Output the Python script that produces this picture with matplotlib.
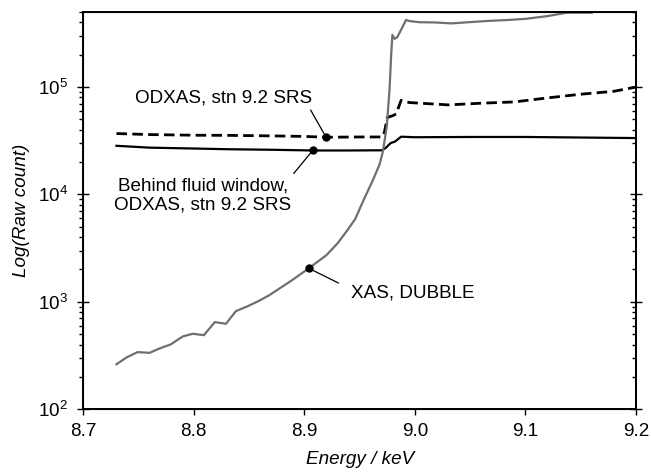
#Imports
import numpy as np
import matplotlib
matplotlib.use("Agg")
import matplotlib.pyplot as plt

#Fonts
plt.rcParams["font.family"] = ["Liberation Sans", "DejaVu Sans"]
plt.rcParams["font.size"] = 13.6

#XAS transmission scan, DUBBLE (energy in keV, raw counts)
xas_e = [8.730, 8.739, 8.749, 8.760, 8.769, 8.779, 8.790, 8.799, 8.809, 8.819,
         8.829, 8.838, 8.849, 8.859, 8.868, 8.879, 8.889, 8.904, 8.920, 8.930,
         8.939, 8.946, 8.953, 8.962, 8.968, 8.971, 8.9745, 8.977, 8.9785, 8.9796,
         8.9815, 8.984, 8.992, 8.995, 9.004, 9.018, 9.033, 9.064, 9.085, 9.100,
         9.120, 9.137, 9.150, 9.160]
xas_counts = [262, 303, 340, 335, 368, 401, 476, 504, 489, 647,
              624, 818, 912, 1022, 1147, 1362, 1592, 2049, 2723, 3500,
              4655, 5900, 8600, 13600, 19000, 25000, 42800, 93500, 200000, 305000,
              280000, 290000, 420000, 410000, 400000, 398000, 390000, 410000, 420000, 430000,
              456000, 490000, 490000, 490000]

#ODXAS, stn 9.2 SRS
odxas_e = [8.730, 8.760, 8.800, 8.830, 8.870, 8.900, 8.920, 8.950, 8.9705, 8.9724,
           8.975, 8.980, 8.983, 8.9875, 8.995, 9.010, 9.030, 9.060, 9.090, 9.120,
           9.150, 9.180, 9.200]
odxas_counts = [36800, 36000, 35500, 35400, 35000, 34600, 34000, 34200, 34200, 38000,
                52000, 54000, 56000, 75000, 71500, 70000, 68000, 70500, 72500, 79000,
                85500, 91000, 99700]

#Behind fluid window, ODXAS, stn 9.2 SRS
fluid_e = [8.730, 8.760, 8.800, 8.830, 8.870, 8.9075, 8.940, 8.970, 8.9735, 8.978,
           8.982, 8.9875, 9.000, 9.050, 9.100, 9.150, 9.200]
fluid_counts = [28300, 27200, 26700, 26300, 26000, 25600, 25600, 25700, 27000, 30000,
                31000, 34400, 34000, 34200, 34200, 33800, 33400]

#Where each label points on its curve (keV)
xas_pick, odxas_pick, fluid_pick = 8.904, 8.9196, 8.9075

#Graphical parameters
gray = "#6f6f6f"

def on_curve(e, es, cs):
    #Log-linear lookup so the dot lands on the line
    return 10 ** np.interp(e, es, np.log10(cs))

fig = plt.figure(figsize=(6.51, 4.72), dpi=100)
ax = fig.add_axes([0.128, 0.133, 0.849, 0.842])

ax.plot(fluid_e, fluid_counts, color="black", lw=1.6, zorder=3)
ax.plot(odxas_e, odxas_counts, color="black", lw=2.0, dashes=(3.8, 1.9), zorder=3)
ax.plot(xas_e, xas_counts, color=gray, lw=1.6, zorder=4)

#Labels with leader lines
lead = dict(arrowstyle="-", color="black", lw=0.9, shrinkB=0)
pts = [
    (odxas_pick, on_curve(odxas_pick, odxas_e, odxas_counts)),
    (fluid_pick, on_curve(fluid_pick, fluid_e, fluid_counts)),
    (xas_pick, on_curve(xas_pick, xas_e, xas_counts)),
]
ax.plot(*zip(*pts), "o", color="black", ms=5, zorder=5)
ax.annotate("ODXAS, stn 9.2 SRS", xy=pts[0], xytext=(8.8271, 79600),
            ha="center", va="center",
            arrowprops=dict(lead, relpos=(0.98, -0.05), shrinkA=1))
ax.annotate("Behind fluid window,\nODXAS, stn 9.2 SRS", xy=pts[1], xytext=(8.8081, 9730),
            ha="center", va="center", multialignment="center",
            arrowprops=dict(lead, relpos=(0.99, 0.97), shrinkA=1))
ax.annotate("XAS, DUBBLE", xy=pts[2], xytext=(8.9982, 1205),
            ha="center", va="center",
            arrowprops=dict(lead, relpos=(0.0, 0.72), shrinkA=8))

#Axes
ax.set_yscale("log")
ax.set_xlim(8.7, 9.2)
ax.set_ylim(100, 5e5)
ax.set_xticks([8.7, 8.8, 8.9, 9.0, 9.1, 9.2])
ax.set_xticklabels(["8.7", "8.8", "8.9", "9.0", "9.1", "9.2"])
ax.set_xlabel("Energy / keV", style="italic", labelpad=8)
ax.set_ylabel("Log(Raw count)", style="italic", labelpad=6)

for s in ax.spines.values():
    s.set_linewidth(1.4)
ax.tick_params(axis="x", which="major", direction="out", length=4, width=1.0, pad=6, top=False)
ax.tick_params(axis="y", which="major", direction="inout", length=8, width=1.0, pad=7)
ax.tick_params(axis="y", which="minor", direction="out", length=3, width=1.0)

#Right side ticks point inwards
rax = ax.twinx()
rax.set_yscale("log")
rax.set_ylim(ax.get_ylim())
rax.tick_params(axis="y", which="major", direction="inout", length=8, width=1.0, labelright=False)
rax.tick_params(axis="y", which="minor", direction="in", length=3, width=1.0)
rax.spines["right"].set_linewidth(1.4)

fig.savefig("out.png", dpi=100)
